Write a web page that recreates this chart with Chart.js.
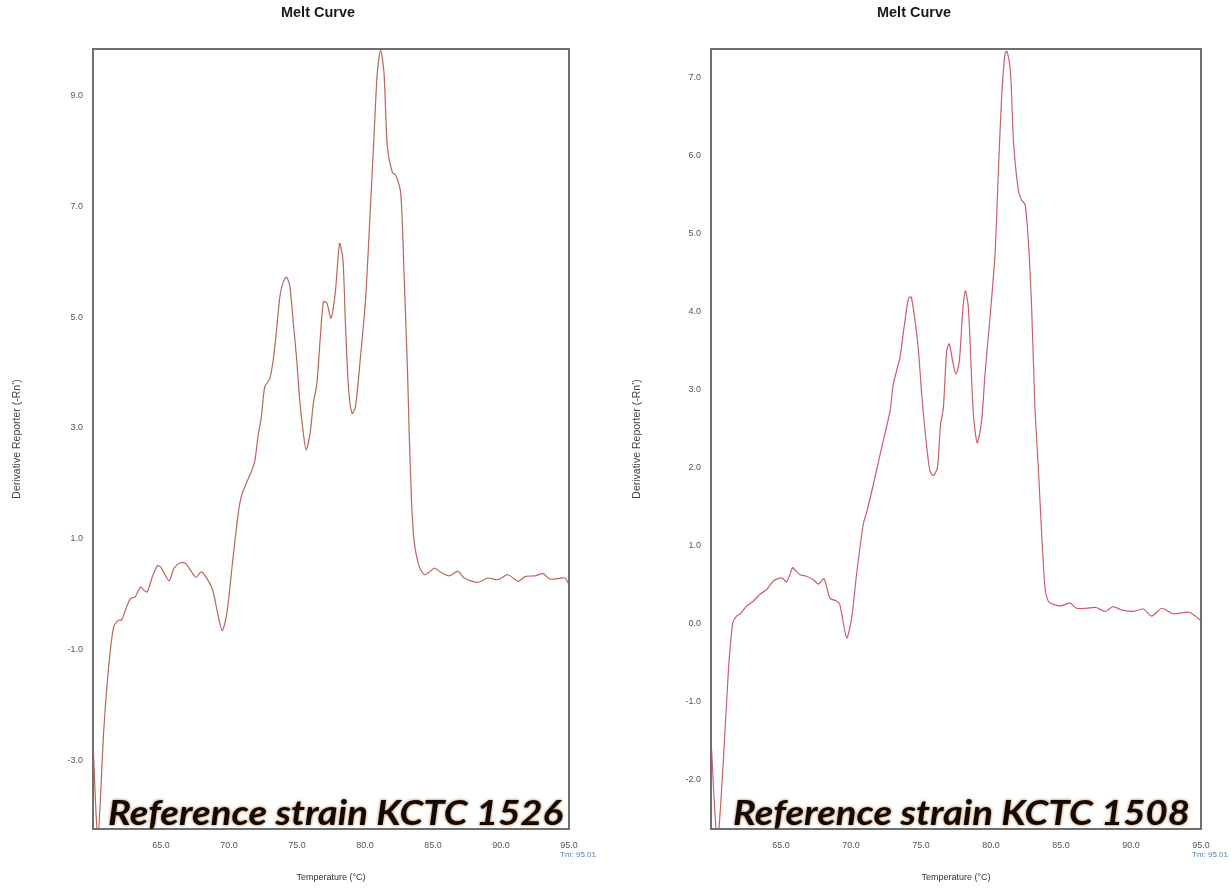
<!DOCTYPE html>
<html>
<head>
<meta charset="utf-8">
<script src="https://cdn.jsdelivr.net/npm/chart.js@4.4.1/dist/chart.umd.min.js"></script>
<style>
  html, body { margin: 0; padding: 0; background: #fff; }
  #wrap { position: relative; width: 1231px; height: 889px; }
  canvas { position: absolute; top: 0; }
  #c1 { left: 0; }
  #c2 { left: 615px; }
</style>
</head>
<body>
<div id="wrap">
  <canvas id="c1" width="615" height="889"></canvas>
  <canvas id="c2" width="616" height="889"></canvas>
</div>
<script>
// Melt curve of reference strain KCTC 1526 (temperature °C, derivative reporter)
const temps1526 = [60.0, 60.36, 60.78, 61.15, 61.52, 61.89, 62.1, 62.38, 62.75, 63.1, 63.5, 63.74, 63.99, 64.36, 64.73, 64.97,
  65.59, 65.96, 66.46, 66.83, 67.57, 67.94, 68.3, 68.8, 69.17, 69.5, 69.84, 70.28, 70.65, 70.9, 71.27, 71.64, 71.89,
  72.13, 72.38, 72.63, 73.0, 73.25, 73.5, 73.74, 73.99, 74.24, 74.48, 74.73, 74.98, 75.2, 75.47, 75.67, 75.96, 76.2,
  76.46, 76.7, 76.95, 77.2, 77.5, 77.81, 78.13, 78.38, 78.56, 78.8, 79.05, 79.3, 79.67, 80.04, 80.4, 80.65, 80.9,
  81.15, 81.4, 81.64, 82.0, 82.26, 82.63, 82.87, 83.13, 83.25, 83.42, 83.6, 83.98, 84.36, 84.7, 85.1, 85.6, 86.2,
  86.83, 87.3, 88.3, 89.0, 89.8, 90.5, 91.27, 91.8, 92.5, 93.1, 93.6, 94.7, 95.0];
const values1526 = [-2.7, -4.4, -2.5, -1.31, -0.59, -0.47, -0.47, -0.29, -0.08, -0.05, 0.13, 0.07, 0.04, 0.31, 0.51, 0.49,
  0.24, 0.47, 0.57, 0.55, 0.30, 0.40, 0.31, 0.07, -0.35, -0.66, -0.35, 0.62, 1.40, 1.76, 2.0, 2.21, 2.39,
  2.84, 3.2, 3.74, 3.89, 4.23, 4.77, 5.37, 5.64, 5.72, 5.55, 4.89, 4.23, 3.5, 2.9, 2.6, 2.9, 3.44,
  3.8, 4.59, 5.28, 5.25, 4.98, 5.43, 6.33, 6.03, 4.89, 3.68, 3.26, 3.38, 4.29, 5.31, 6.99, 8.2, 9.4,
  9.82, 9.4, 8.08, 7.62, 7.56, 7.23, 5.79, 4.0, 2.9, 1.7, 0.98, 0.5, 0.35, 0.39, 0.47, 0.39, 0.33,
  0.41, 0.29, 0.21, 0.29, 0.26, 0.35, 0.23, 0.32, 0.33, 0.37, 0.27, 0.29, 0.17];

// Melt curve of reference strain KCTC 1508
const temps1508 = [60.0, 60.45, 60.88, 61.24, 61.55, 61.83, 62.1, 62.55, 63.02, 63.5, 63.98, 64.45, 65.05, 65.4, 65.83,
  66.0, 66.36, 66.8, 67.3, 67.67, 68.07, 68.5, 68.98, 69.2, 69.69, 70.05, 70.4, 70.88, 71.12, 71.6, 72.19, 72.79,
  73.02, 73.5, 73.79, 74.1, 74.3, 74.57, 74.8, 75.05, 75.36, 75.64, 75.88, 76.17, 76.4, 76.6, 76.83, 77.02, 77.26,
  77.5, 77.74, 77.98, 78.17, 78.38, 78.55, 78.74, 79.02, 79.33, 79.57, 79.93, 80.29, 80.52, 80.76, 81.0, 81.15,
  81.4, 81.6, 81.95, 82.19, 82.43, 82.67, 82.9, 83.14, 83.38, 83.62, 83.86, 84.1, 84.45, 85.0, 85.64, 86.1, 86.83,
  87.5, 88.14, 88.74, 89.3, 90.17, 90.88, 91.48, 92.19, 93.0, 94.1, 94.45, 95.0];
const values1508 = [-1.49, -2.8, -1.77, -0.62, 0.0, 0.09, 0.12, 0.22, 0.28, 0.37, 0.43, 0.54, 0.58, 0.53, 0.71,
  0.68, 0.62, 0.6, 0.56, 0.50, 0.57, 0.32, 0.28, 0.24, -0.19, 0.07, 0.63, 1.27, 1.42, 1.78, 2.25, 2.72,
  3.06, 3.41, 3.79, 4.16, 4.18, 3.88, 3.53, 2.94, 2.34, 1.95, 1.89, 1.99, 2.55, 2.76, 3.49, 3.58, 3.36,
  3.19, 3.36, 4.0, 4.26, 4.05, 3.41, 2.68, 2.31, 2.59, 3.19, 3.92, 4.73, 5.76, 6.74, 7.30, 7.33,
  7.04, 6.19, 5.55, 5.42, 5.37, 4.90, 4.05, 2.76, 1.99, 1.14, 0.45, 0.28, 0.24, 0.22, 0.26, 0.19, 0.19,
  0.2, 0.15, 0.21, 0.17, 0.15, 0.18, 0.09, 0.19, 0.12, 0.14, 0.11, 0.03];

// Axis ticks
const xTickValues = [65, 70, 75, 80, 85, 90, 95];
const yTicks1526 = [-3, -1, 1, 3, 5, 7, 9];
const yTicks1508 = [-2, -1, 0, 1, 2, 3, 4, 5, 6, 7];

// Texts
const chartTitle = 'Melt Curve';
const xTitle = 'Temperature (°C)';
const yTitle = "Derivative Reporter (-Rn')";
const strain1526 = 'Reference strain KCTC 1526';
const strain1508 = 'Reference strain KCTC 1508';
const tmLabel = 'Tm: 95.01';

Chart.defaults.font.family = '"Liberation Sans", Arial, sans-serif';

// Heading, plot frame, strain caption and Tm note
const meltDecor = {
  id: 'meltDecor',
  afterDatasetsDraw(chart, args, opts) {
    const { ctx, chartArea: a } = chart;

    // heading
    ctx.save();
    ctx.font = 'bold 15px "Liberation Sans", Arial, sans-serif';
    const tw = ctx.measureText(opts.title).width;
    ctx.translate(opts.titleX, 13);
    ctx.scale(74 / tw, 1);
    ctx.fillStyle = '#1a1a1a';
    ctx.textAlign = 'center';
    ctx.textBaseline = 'middle';
    ctx.fillText(opts.title, 0, 0);
    ctx.restore();

    // frame
    ctx.save();
    ctx.strokeStyle = '#707070';
    ctx.lineWidth = 2;
    ctx.strokeRect(a.left, a.top, a.right - a.left, a.bottom - a.top);
    ctx.restore();

    // strain caption
    ctx.save();
    ctx.font = 'italic 700 35px Lato';
    const w = ctx.measureText(opts.strain).width;
    const target = a.right - a.left - opts.insetLeft - opts.insetRight;
    ctx.translate(a.left + opts.insetLeft, a.bottom - 4);
    ctx.scale(target / w, 1);
    ctx.shadowColor = 'rgba(150,80,20,0.85)';
    ctx.shadowBlur = 3;
    ctx.fillStyle = '#140900';
    ctx.textBaseline = 'alphabetic';
    ctx.fillText(opts.strain, 0, 0);
    ctx.restore();

    // Tm note
    ctx.save();
    ctx.font = '8px "Liberation Sans"';
    ctx.fillStyle = '#5582b8';
    ctx.textAlign = 'center';
    ctx.textBaseline = 'middle';
    ctx.fillText(opts.tm, a.right + 9, a.bottom + 26);
    ctx.restore();
  }
};

function makeChart(id, temps, values, yTicks, yMin, yMax, cfg) {
  const points = temps.map((t, i) => ({ x: t, y: values[i] }));
  return new Chart(document.getElementById(id), {
    type: 'line',
    data: {
      datasets: [{
        data: points,
        borderColor: cfg.color,
        borderWidth: 1.2,
        pointRadius: 0,
        tension: 0.25,
        fill: false
      }]
    },
    options: {
      responsive: false,
      animation: false,
      devicePixelRatio: 1,
      layout: { padding: { left: 0, right: cfg.padRight, top: 49, bottom: 0 } },
      plugins: {
        legend: { display: false },
        tooltip: { enabled: false },
        title: { display: false },
        meltDecor: {
          title: chartTitle, titleX: cfg.titleX,
          strain: cfg.strain, tm: tmLabel,
          insetLeft: cfg.insetLeft, insetRight: cfg.insetRight
        }
      },
      scales: {
        x: {
          type: 'linear',
          min: 60,
          max: 95,
          afterBuildTicks: s => { s.ticks = xTickValues.map(v => ({ value: v })); },
          afterFit: s => { s.height = 60; },
          grid: { display: false, drawTicks: false },
          border: { display: false },
          ticks: {
            padding: 11,
            color: '#555',
            font: { size: 9 },
            maxRotation: 0,
            autoSkip: false,
            callback: v => Number(v).toFixed(1)
          },
          title: {
            display: true,
            text: xTitle,
            color: '#333',
            font: { size: 9 },
            padding: { top: 0, bottom: 6 }
          }
        },
        y: {
          type: 'linear',
          min: yMin,
          max: yMax,
          afterBuildTicks: s => { s.ticks = yTicks.map(v => ({ value: v })); },
          afterFit: s => { s.width = cfg.yWidth; },
          grid: { display: false, drawTicks: false },
          border: { display: false },
          ticks: {
            padding: 10,
            color: '#555',
            font: { size: 9 },
            autoSkip: false,
            callback: v => Number(v).toFixed(1)
          },
          title: {
            display: true,
            text: yTitle,
            color: '#444',
            font: { size: 10.5 },
            padding: { top: cfg.yTitlePad, bottom: 0 }
          }
        }
      }
    },
    plugins: [meltDecor]
  });
}

makeChart('c1', temps1526, values1526, yTicks1526, -4.24, 9.84, {
  color: '#b8675c', padRight: 46, yWidth: 93, yTitlePad: 11, titleX: 318,
  strain: strain1526, insetLeft: 15, insetRight: 6
});
makeChart('c2', temps1508, values1508, yTicks1508, -2.64, 7.36, {
  color: '#c9606a', padRight: 30, yWidth: 96, yTitlePad: 16, titleX: 299,
  strain: strain1508, insetLeft: 22, insetRight: 11
});
</script>
</body>
</html>
